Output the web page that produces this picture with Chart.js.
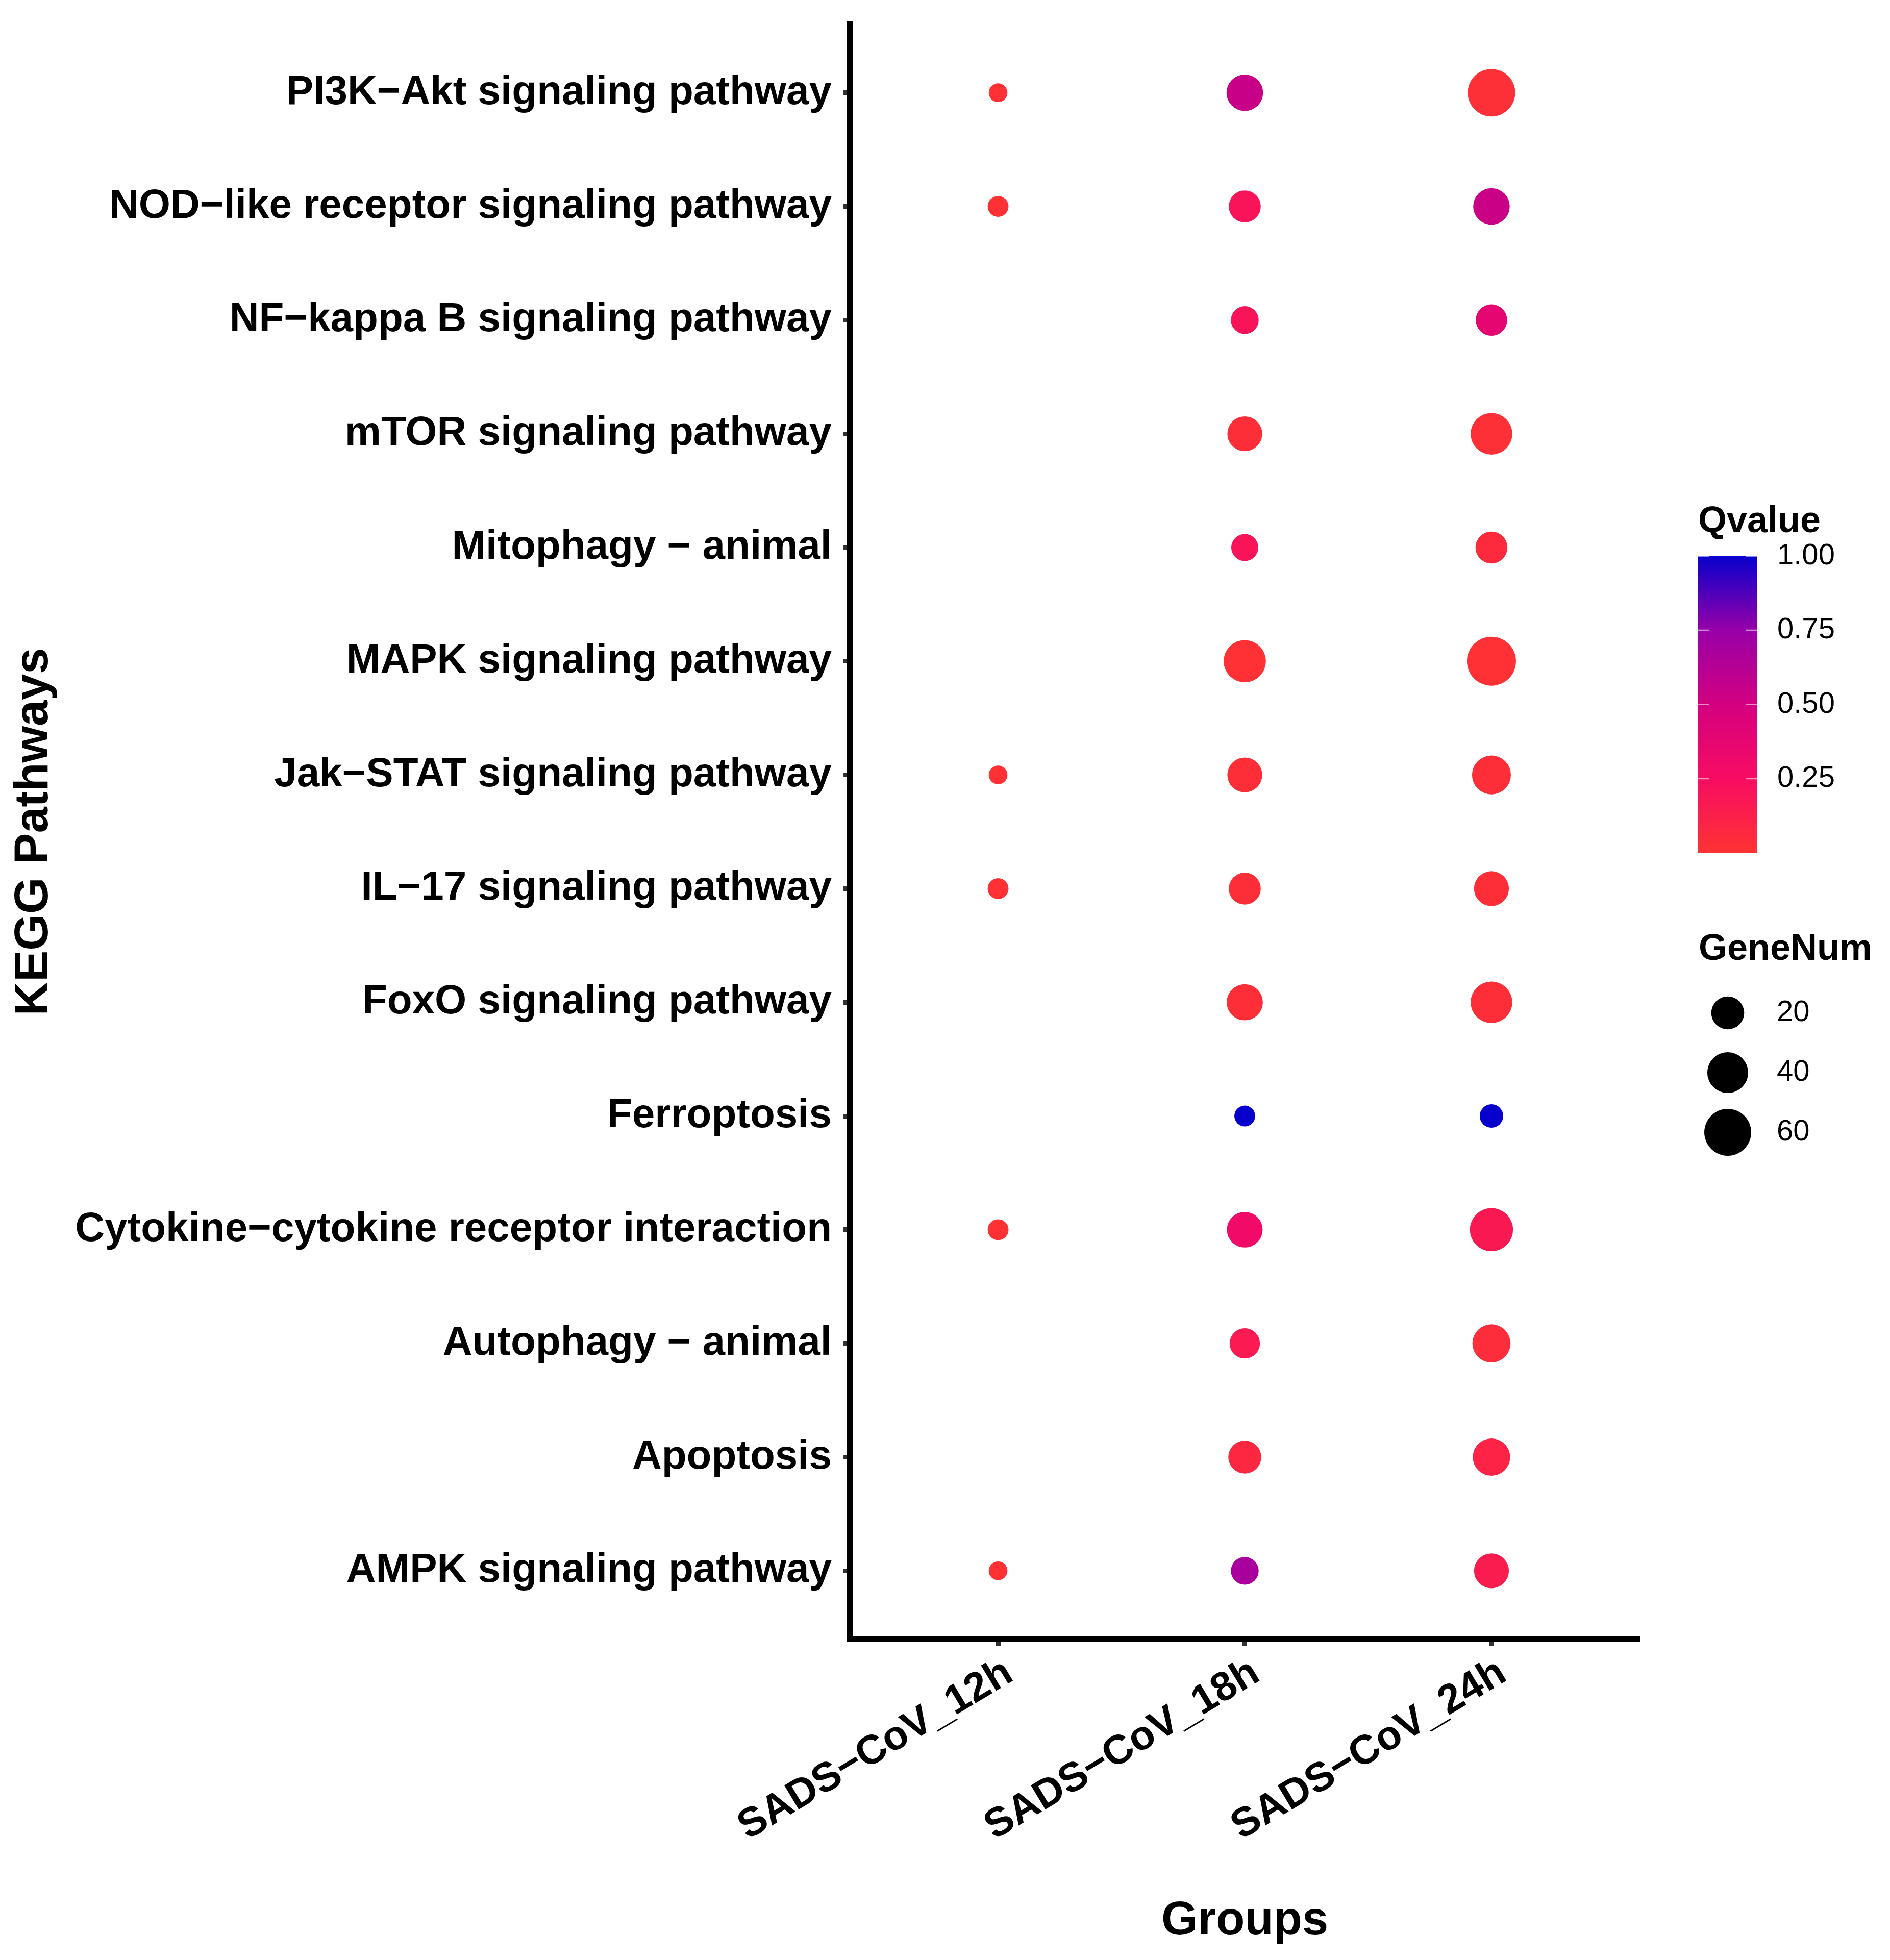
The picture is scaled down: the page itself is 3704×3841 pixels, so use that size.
<!DOCTYPE html>
<html>
<head>
<meta charset="UTF-8">
<title>KEGG Pathways</title>
<script src="https://cdn.jsdelivr.net/npm/chart.js@4.4.1/dist/chart.umd.min.js"></script>
<style>
  html, body { margin: 0; padding: 0; background: #fff; }
  #wrap { width: 3704px; height: 3841px; }
</style>
</head>
<body>
<div id="wrap"><canvas id="canvas"></canvas></div>
<script>
// pathways from top to bottom
const pathways = [
  'PI3K\u2212Akt signaling pathway',
  'NOD\u2212like receptor signaling pathway',
  'NF\u2212kappa B signaling pathway',
  'mTOR signaling pathway',
  'Mitophagy \u2212 animal',
  'MAPK signaling pathway',
  'Jak\u2212STAT signaling pathway',
  'IL\u221217 signaling pathway',
  'FoxO signaling pathway',
  'Ferroptosis',
  'Cytokine\u2212cytokine receptor interaction',
  'Autophagy \u2212 animal',
  'Apoptosis',
  'AMPK signaling pathway'
];
const groups = ['SADS\u2212CoV_12h', 'SADS\u2212CoV_18h', 'SADS\u2212CoV_24h'];

// gene numbers (null = not enriched)
const gene12h = [3, 4, null, null, null, null, 3, 4, null, null, 4, null, null, 3];
const gene18h = [28, 18, 11, 24, 10, 44, 24, 18, 27, 4, 26, 15, 20, 11];
const gene24h = [62, 28, 17, 42, 18, 68, 34, 24, 42, 6, 47, 32, 30, 24];

// q values
const q12h = [0.01, 0.01, null, null, null, null, 0.01, 0.01, null, null, 0.01, null, null, 0.01];
const q18h = [0.55, 0.20, 0.20, 0.03, 0.20, 0.01, 0.03, 0.03, 0.03, 1.00, 0.30, 0.16, 0.08, 0.68];
const q24h = [0.02, 0.54, 0.38, 0.02, 0.06, 0.01, 0.03, 0.03, 0.03, 1.00, 0.17, 0.04, 0.10, 0.15];

const qTicks = [0.25, 0.50, 0.75, 1.00];
const sizeTicks = [20, 40, 60];

const FONT = '"Liberation Sans", Arial, Helvetica, sans-serif';

// colour ramp red -> magenta -> blue
const rampStops = [
  [0.00, [255, 51, 51]],
  [0.25, [248, 12, 98]],
  [0.50, [212, 0, 128]],
  [0.75, [152, 0, 168]],
  [1.00, [8, 0, 204]]
];
const qMin = 0, qMax = 1;
function qColor(q) {
  const t = Math.min(1, Math.max(0, (q - qMin) / (qMax - qMin)));
  for (let i = 1; i < rampStops.length; i++) {
    const [t1, c1] = rampStops[i];
    const [t0, c0] = rampStops[i - 1];
    if (t <= t1) {
      const f = (t - t0) / (t1 - t0);
      const c = c0.map((v, k) => Math.round(v + (c1[k] - v) * f));
      return 'rgb(' + c.join(',') + ')';
    }
  }
  return 'rgb(' + rampStops[rampStops.length - 1][1].join(',') + ')';
}

// point size: area scale
function sizeRadius(n) {
  const d = 31 + 65 * Math.sqrt(Math.max(0, n - 2.5) / 65.5);
  return d / 2;
}

const genes = [gene12h, gene18h, gene24h];
const qs = [q12h, q18h, q24h];
const datasets = groups.map((g, gi) => ({
  label: g,
  data: pathways.map((p, i) => genes[gi][i] == null ? null :
    { x: gi, y: i, n: genes[gi][i], q: qs[gi][i] }).filter(d => d),
  pointRadius: c => sizeRadius(c.raw.n),
  pointBackgroundColor: c => qColor(c.raw.q),
  pointBorderWidth: 0,
  pointBorderColor: 'rgba(0,0,0,0)'
}));

const legendPlugin = {
  id: 'ggLegend',
  afterDraw(chart) {
    const ctx = chart.ctx;
    ctx.save();
    ctx.fillStyle = '#000';
    ctx.textAlign = 'left';
    ctx.textBaseline = 'alphabetic';
    ctx.font = 'bold 72px ' + FONT;
    ctx.fillText('Qvalue', 3328, 1043);

    // colour bar
    const bx = 3327, bw = 117, top = 1090, bottom = 1671;
    for (let y = top; y < bottom; y++) {
      const q = qMax - (y - top) / (bottom - top) * (qMax - qMin);
      ctx.fillStyle = qColor(q);
      ctx.fillRect(bx, y, bw, 1.5);
    }
    ctx.strokeStyle = 'rgba(255,255,255,0.55)';
    ctx.lineWidth = 3;
    ctx.font = '58px ' + FONT;
    ctx.textBaseline = 'middle';
    qTicks.forEach(v => {
      const y = bottom - (v - qMin) / (qMax - qMin) * (bottom - top);
      ctx.beginPath();
      ctx.moveTo(bx, y); ctx.lineTo(bx + 23, y);
      ctx.moveTo(bx + bw - 23, y); ctx.lineTo(bx + bw, y);
      ctx.stroke();
      ctx.fillStyle = '#000';
      ctx.fillText(v.toFixed(2), 3483, y);
    });

    // size legend
    ctx.textBaseline = 'alphabetic';
    ctx.font = 'bold 72px ' + FONT;
    ctx.fillText('GeneNum', 3329, 1881);
    ctx.font = '58px ' + FONT;
    ctx.textBaseline = 'middle';
    sizeTicks.forEach((n, i) => {
      const y = 1985 + i * 117;
      ctx.beginPath();
      ctx.arc(3386, y, sizeRadius(n), 0, Math.PI * 2);
      ctx.fillStyle = '#000';
      ctx.fill();
      ctx.fillText(String(n), 3482, y);
    });
    ctx.restore();
  }
};

const axisGrid = {
  drawOnChartArea: false,
  drawTicks: true,
  tickLength: 13,
  tickWidth: 9,
  tickColor: '#333333'
};
const axisBorder = { display: true, color: '#000', width: 12 };

new Chart(document.getElementById('canvas').getContext('2d'), {
  type: 'scatter',
  data: { datasets: datasets },
  options: {
    responsive: true,
    maintainAspectRatio: false,
    devicePixelRatio: 1,
    animation: false,
    layout: { padding: { top: 40, right: 491, bottom: 0, left: 0 } },
    plugins: { legend: { display: false }, tooltip: { enabled: false } },
    scales: {
      x: {
        type: 'linear',
        min: -0.6,
        max: 2.6,
        afterBuildTicks: s => { s.ticks = groups.map((g, i) => ({ value: i })); },
        afterFit: s => { s.height = 629; s.paddingLeft = 0; s.paddingRight = 0; },
        ticks: {
          autoSkip: false,
          minRotation: 31,
          maxRotation: 31,
          padding: 6,
          labelOffset: 22,
          color: '#000',
          font: { family: FONT, size: 80, weight: 'bold' },
          callback: v => groups[v]
        },
        grid: axisGrid,
        border: axisBorder,
        title: {
          display: true,
          text: 'Groups',
          color: '#000',
          font: { family: FONT, size: 92, weight: 'bold' },
          padding: { top: 0, bottom: 20 }
        }
      },
      y: {
        type: 'linear',
        reverse: true,
        min: -0.6,
        max: 13.6,
        afterBuildTicks: s => { s.ticks = pathways.map((p, i) => ({ value: i })); },
        afterFit: s => { s.width = 1666; s.paddingTop = 0; s.paddingBottom = 0; },
        ticks: {
          autoSkip: false,
          padding: 23,
          color: '#000',
          font: { family: FONT, size: 80, weight: 'bold' },
          callback: v => pathways[v]
        },
        grid: axisGrid,
        border: axisBorder,
        title: {
          display: true,
          text: 'KEGG Pathways',
          color: '#000',
          font: { family: FONT, size: 92, weight: 'bold' },
          padding: { top: 12, bottom: 0 }
        }
      }
    }
  },
  plugins: [legendPlugin]
});
</script>
</body>
</html>
